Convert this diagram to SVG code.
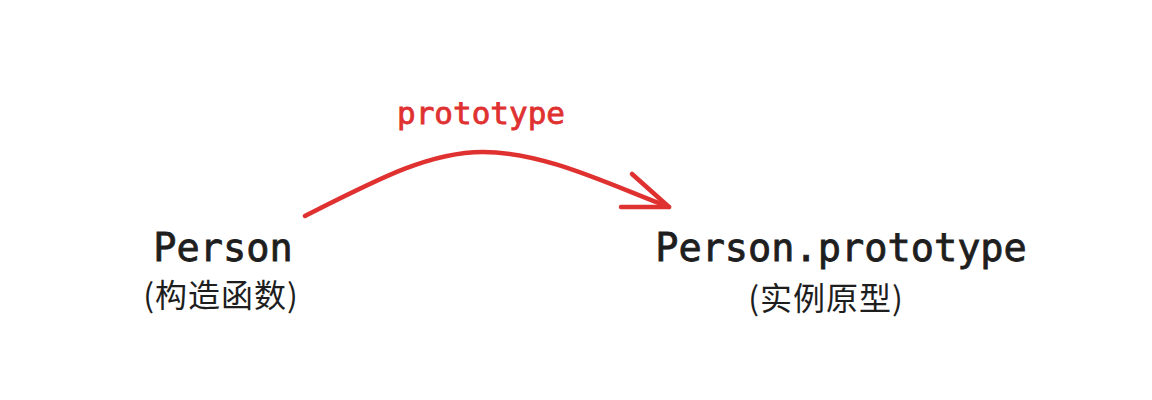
<svg xmlns="http://www.w3.org/2000/svg" width="1152" height="400" viewBox="0 0 1152 400">
<style>
.code{font-family:"DejaVu Sans Mono","Liberation Mono",monospace;fill:#1e1e1e;stroke:#1e1e1e;stroke-width:0.8px;font-size:38.6px}
.cjk{font-family:"Noto Sans CJK SC","Noto Sans",sans-serif;fill:#1e1e1e;font-size:32px;letter-spacing:1px}
.lbl{font-family:"DejaVu Sans Mono","Liberation Mono",monospace;fill:#e03131;stroke:#e03131;stroke-width:0.8px;font-size:31px}
.arrow{fill:none;stroke:#e03131;stroke-width:4.5;stroke-linecap:round;stroke-linejoin:round}
</style>
<rect width="1152" height="400" fill="#ffffff"/>
<g id="node-person">
<text class="code" x="223" y="261" text-anchor="middle">Person</text>
<text class="cjk" x="221" y="307" text-anchor="middle">(构造函数)</text>
</g>
<g id="node-prototype">
<text class="code" x="841" y="261" text-anchor="middle">Person.prototype</text>
<text class="cjk" x="826" y="310" text-anchor="middle">(实例原型)</text>
</g>
<g id="connectors">
<path class="arrow" d="M305,216 C380,178 430,152 483,152 C545,152 610,185 669,207"/>
<path class="arrow" d="M632,174 L669,207 L621,207"/>
<text class="lbl" x="481" y="124" text-anchor="middle">prototype</text>
</g>
</svg>
